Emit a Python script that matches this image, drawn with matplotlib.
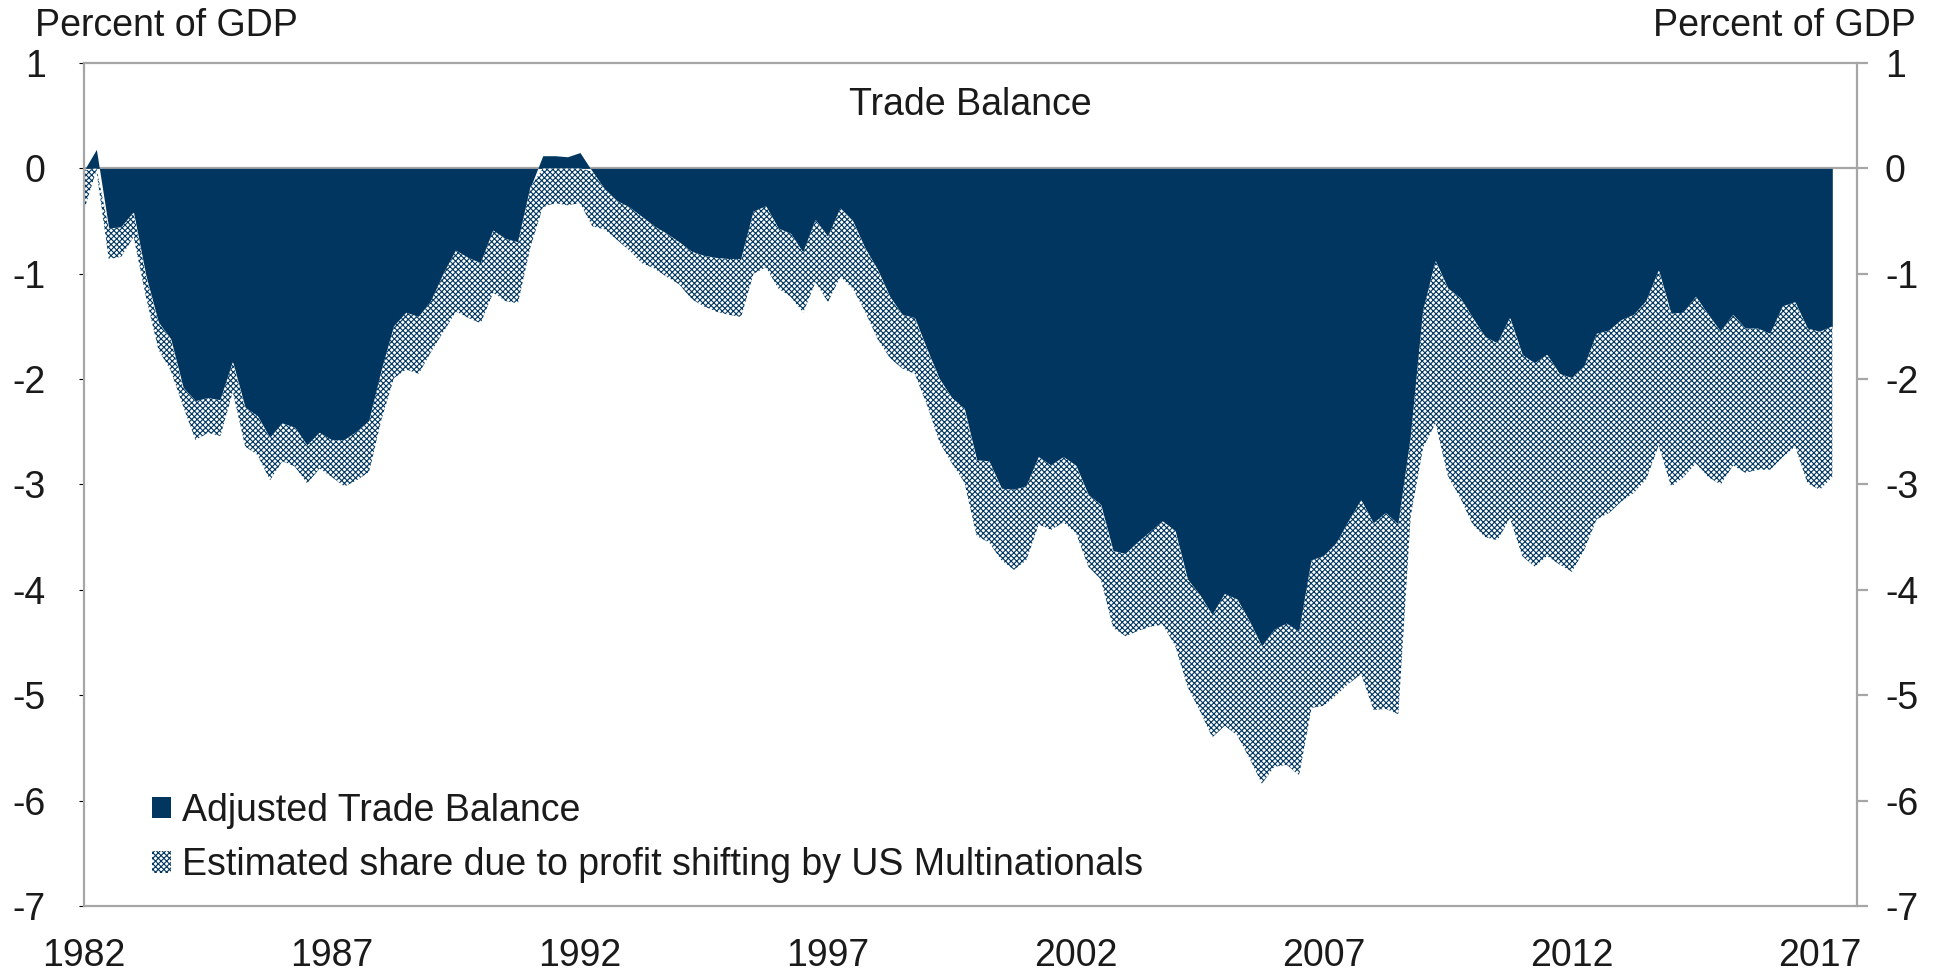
import numpy as np
import matplotlib
matplotlib.use("Agg")
import matplotlib.pyplot as plt
from matplotlib.patches import Patch

plt.rcParams['font.family'] = ['Liberation Sans', 'DejaVu Sans']
plt.rcParams['hatch.linewidth'] = 0.8
plt.rcParams['axes.unicode_minus'] = False

# quarterly, 1982Q1 .. 2017Q2, percent of GDP
adjusted = [
    -0.02, 0.18, -0.57, -0.56,   # 1982
    -0.42, -1.02, -1.46, -1.62,  # 1983
    -2.08, -2.21, -2.18, -2.20,  # 1984
    -1.84, -2.27, -2.35, -2.56,  # 1985
    -2.42, -2.46, -2.63, -2.51,  # 1986
    -2.58, -2.58, -2.50, -2.40,  # 1987
    -1.92, -1.50, -1.37, -1.41,  # 1988
    -1.26, -1.00, -0.78, -0.85,  # 1989
    -0.90, -0.59, -0.67, -0.70,  # 1990
    -0.18, 0.12, 0.12, 0.11,     # 1991
    0.15, -0.03, -0.20, -0.31,   # 1992
    -0.37, -0.46, -0.55, -0.62,  # 1993
    -0.70, -0.79, -0.83, -0.85,  # 1994
    -0.86, -0.86, -0.41, -0.36,  # 1995
    -0.57, -0.62, -0.80, -0.49,  # 1996
    -0.65, -0.38, -0.50, -0.76,  # 1997
    -0.96, -1.22, -1.39, -1.42,  # 1998
    -1.72, -2.00, -2.18, -2.28,  # 1999
    -2.77, -2.78, -3.04, -3.05,  # 2000
    -3.02, -2.74, -2.82, -2.74,  # 2001
    -2.82, -3.10, -3.19, -3.63,  # 2002
    -3.66, -3.55, -3.45, -3.35,  # 2003
    -3.44, -3.90, -4.05, -4.24,  # 2004
    -4.04, -4.09, -4.30, -4.54,  # 2005
    -4.38, -4.32, -4.40, -3.72,  # 2006
    -3.68, -3.56, -3.35, -3.15,  # 2007
    -3.37, -3.27, -3.38, -2.55,  # 2008
    -1.35, -0.88, -1.14, -1.23,  # 2009
    -1.42, -1.60, -1.66, -1.42,  # 2010
    -1.77, -1.85, -1.77, -1.95,  # 2011
    -1.99, -1.88, -1.57, -1.54,  # 2012
    -1.44, -1.39, -1.26, -0.97,  # 2013
    -1.38, -1.37, -1.22, -1.39,  # 2014
    -1.55, -1.39, -1.52, -1.52,  # 2015
    -1.57, -1.31, -1.27, -1.52,  # 2016
    -1.55, -1.50,                # 2017
]

official = [
    -0.40, -0.02, -0.86, -0.84,  # 1982
    -0.65, -1.22, -1.72, -1.92,  # 1983
    -2.26, -2.58, -2.51, -2.54,  # 1984
    -2.12, -2.64, -2.72, -2.96,  # 1985
    -2.78, -2.83, -2.99, -2.85,  # 1986
    -2.93, -3.02, -2.96, -2.88,  # 1987
    -2.38, -1.99, -1.91, -1.95,  # 1988
    -1.74, -1.55, -1.36, -1.42,  # 1989
    -1.47, -1.18, -1.26, -1.28,  # 1990
    -0.75, -0.37, -0.33, -0.35,  # 1991
    -0.33, -0.55, -0.58, -0.68,  # 1992
    -0.78, -0.90, -0.95, -1.03,  # 1993
    -1.10, -1.24, -1.31, -1.36,  # 1994
    -1.39, -1.41, -1.00, -0.94,  # 1995
    -1.14, -1.22, -1.37, -1.08,  # 1996
    -1.27, -1.03, -1.14, -1.36,  # 1997
    -1.62, -1.80, -1.90, -1.95,  # 1998
    -2.25, -2.60, -2.80, -2.98,  # 1999
    -3.49, -3.55, -3.72, -3.81,  # 2000
    -3.72, -3.38, -3.43, -3.36,  # 2001
    -3.46, -3.78, -3.90, -4.36,  # 2002
    -4.44, -4.39, -4.35, -4.33,  # 2003
    -4.53, -4.92, -5.15, -5.40,  # 2004
    -5.29, -5.38, -5.60, -5.84,  # 2005
    -5.68, -5.66, -5.76, -5.12,  # 2006
    -5.10, -5.00, -4.89, -4.80,  # 2007
    -5.14, -5.13, -5.18, -3.30,  # 2008
    -2.65, -2.42, -2.92, -3.13,  # 2009
    -3.38, -3.50, -3.53, -3.32,  # 2010
    -3.68, -3.78, -3.68, -3.76,  # 2011
    -3.83, -3.62, -3.33, -3.27,  # 2012
    -3.16, -3.08, -2.95, -2.63,  # 2013
    -3.02, -2.93, -2.80, -2.93,  # 2014
    -3.00, -2.82, -2.89, -2.86,  # 2015
    -2.86, -2.74, -2.64, -2.99,  # 2016
    -3.05, -2.93,                # 2017
]

years = 1982 + 0.25 * np.arange(len(adjusted))
year_ticks = [1982, 1987, 1992, 1997, 2002, 2007, 2012, 2017]
y_ticks = [1, 0, -1, -2, -3, -4, -5, -6, -7]

navy = '#00365F'
gray = '#A6A6A6'
txt = '#1A1A1A'
fs = 27

adj = np.array(adjusted)
off = np.array(official)

fig = plt.figure(figsize=(19.44, 9.75), dpi=100)
ax = fig.add_axes([0.0432, 0.0708, 0.9121, 0.8646])

ax.fill_between(years, 0, adj, color=navy, lw=0, zorder=2)
ax.fill_between(years, np.minimum(adj, 0), off, facecolor='white',
                edgecolor=navy, hatch='xxxxxx', lw=0, zorder=2)
ax.axhline(0, color=gray, lw=1.6, zorder=1)

ax.set_xlim(1982, 2017.75)
ax.set_ylim(-7, 1)
ax.set_xticks(year_ticks)
ax.set_xticklabels([str(y) for y in year_ticks])
ax.set_yticks(y_ticks)
ax.tick_params(axis='x', length=0, pad=23, labelsize=fs, labelcolor=txt)
ax.tick_params(axis='y', left=False, right=False, labelsize=fs,
               labelcolor=txt, pad=24)

for s in ax.spines.values():
    s.set_color(gray)
    s.set_linewidth(1.6)

ax2 = ax.twinx()
ax2.set_ylim(-7, 1)
ax2.set_yticks(y_ticks)
ax2.tick_params(axis='y', direction='out', length=8, width=1.6, color=gray,
                labelsize=fs, labelcolor=txt, pad=12)
for s in ax2.spines.values():
    s.set_visible(False)

fig.text(35 / 1944, 1 - 26 / 975, 'Percent of GDP', fontsize=fs, color=txt,
         ha='left', va='center')
fig.text(1916 / 1944, 1 - 26 / 975, 'Percent of GDP', fontsize=fs, color=txt,
         ha='right', va='center')
ax.text(0.5, 0.95, 'Trade Balance', transform=ax.transAxes, fontsize=fs,
        color=txt, ha='center', va='center')

handles = [Patch(facecolor=navy, edgecolor='none'),
           Patch(facecolor='white', edgecolor=navy, hatch='xxxxxx', lw=0)]
labels = ['Adjusted Trade Balance',
          'Estimated share due to profit shifting by US Multinationals']
leg = ax.legend(handles, labels, loc='lower left', bbox_to_anchor=(0.03, 0.009),
                frameon=False, fontsize=fs, handlelength=0.5, handleheight=0.5,
                handletextpad=0.3, labelspacing=0.5, borderaxespad=0)
for t in leg.get_texts():
    t.set_color(txt)

fig.savefig('out.png', dpi=100)
